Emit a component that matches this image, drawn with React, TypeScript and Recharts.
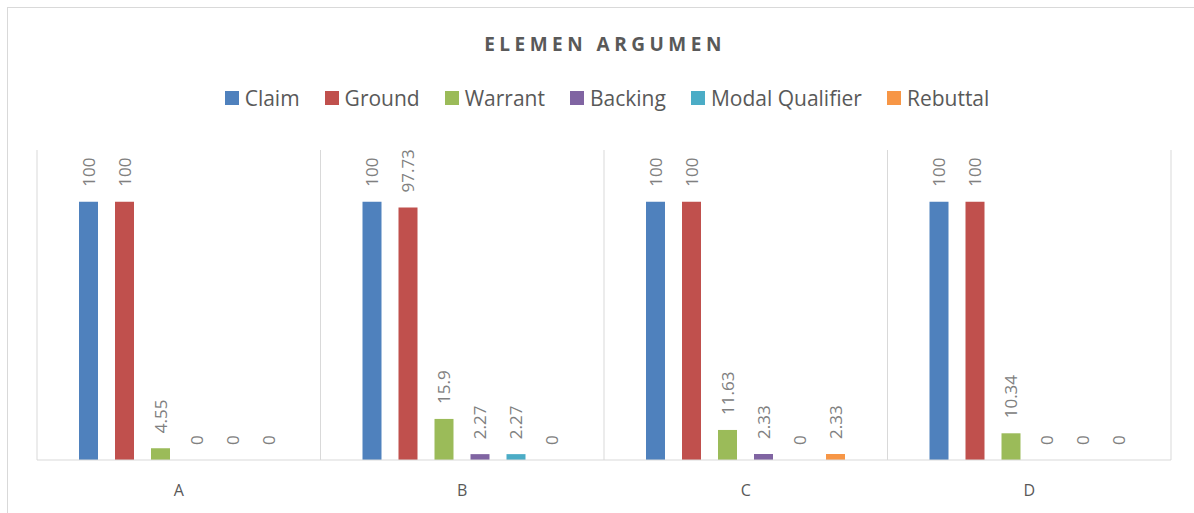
import { BarChart, Bar, XAxis, YAxis, CartesianGrid } from 'recharts';

const categories = ['A', 'B', 'C', 'D'];
const claim = [100, 100, 100, 100];
const ground = [100, 97.73, 100, 100];
const warrant = [4.55, 15.9, 11.63, 10.34];
const backing = [0, 2.27, 2.33, 0];
const modalQualifier = [0, 2.27, 0, 0];
const rebuttal = [0, 0, 2.33, 0];

const series = [
  { key: 'claim', name: 'Claim', color: '#4f81bd', values: claim },
  { key: 'ground', name: 'Ground', color: '#c0504d', values: ground },
  { key: 'warrant', name: 'Warrant', color: '#9bbb59', values: warrant },
  { key: 'backing', name: 'Backing', color: '#8064a2', values: backing },
  { key: 'modal', name: 'Modal Qualifier', color: '#4bacc6', values: modalQualifier },
  { key: 'rebuttal', name: 'Rebuttal', color: '#f79646', values: rebuttal },
];

const data = categories.map((name, i) => {
  const row: any = { name, idx: i + 0.5 };
  series.forEach((s) => (row[s.key] = s.values[i]));
  return row;
});

const FONT = '"Open Sans", "Liberation Sans", sans-serif';

const renderLabel = (props: any) => {
  const { x, y, width, height, value } = props;
  const cx = Number(x) + Number(width) / 2;
  const top = Math.min(Number(y), Number(y) + Number(height || 0));
  const ty = top - 15;
  return (
    <text
      x={cx}
      y={ty}
      transform={`rotate(-90 ${cx} ${ty})`}
      textAnchor="start"
      dominantBaseline="central"
      fill="#808080"
      fontSize={17}
      fontFamily={FONT}
    >
      {String(value)}
    </text>
  );
};

export default function App() {
  return (
    <div
      style={{
        position: 'absolute',
        left: 0,
        top: 0,
        width: 1194,
        height: 513,
        overflow: 'hidden',
        background: '#fff',
        fontFamily: FONT,
      }}
    >
      <div
        style={{
          position: 'absolute',
          left: 7,
          top: 7,
          width: 1220,
          height: 540,
          border: '1px solid #d9d9d9',
        }}
      />
      <div
        style={{
          position: 'absolute',
          left: 8,
          width: 1194,
          top: 30,
          textAlign: 'center',
          fontSize: 19,
          fontWeight: 'bold',
          letterSpacing: 4.5,
          color: '#595959',
          lineHeight: '28px',
        }}
      >
        ELEMEN ARGUMEN
      </div>
      <div
        style={{
          position: 'absolute',
          left: 0,
          width: 1214,
          top: 84,
          display: 'flex',
          justifyContent: 'center',
          gap: 25,
          fontSize: 21,
          color: '#595959',
          lineHeight: '28px',
        }}
      >
        {series.map((s) => (
          <div key={s.key} style={{ display: 'flex', alignItems: 'center', gap: 6 }}>
            <span style={{ width: 14, height: 14, background: s.color, display: 'inline-block' }} />
            <span>{s.name}</span>
          </div>
        ))}
      </div>
      <div style={{ position: 'absolute', left: 0, top: 0 }}>
        <BarChart
          width={1194}
          height={513}
          data={data}
          margin={{ top: 150, right: 23, left: 37, bottom: 23 }}
          barGap={17}
          barSize={19}
        >
          <CartesianGrid xAxisId="grid" vertical horizontal={false} stroke="#d9d9d9" />
          <XAxis
            dataKey="name"
            height={30}
            axisLine={{ stroke: '#d9d9d9' }}
            tickLine={false}
            tickSize={6}
            tickMargin={19}
            tick={{ fill: '#595959', fontSize: 16, fontFamily: FONT }}
          />
          <XAxis
            xAxisId="grid"
            dataKey="idx"
            type="number"
            domain={[0, 4]}
            ticks={[0, 1, 2, 3, 4]}
            hide
          />
          <YAxis hide domain={[0, 120]} />
          {series.map((s) => (
            <Bar
              key={s.key}
              dataKey={s.key}
              name={s.name}
              fill={s.color}
              isAnimationActive={false}
              minPointSize={(v: any) => (v === 0 ? 0.01 : 0)}
              label={renderLabel}
            />
          ))}
        </BarChart>
      </div>
    </div>
  );
}
